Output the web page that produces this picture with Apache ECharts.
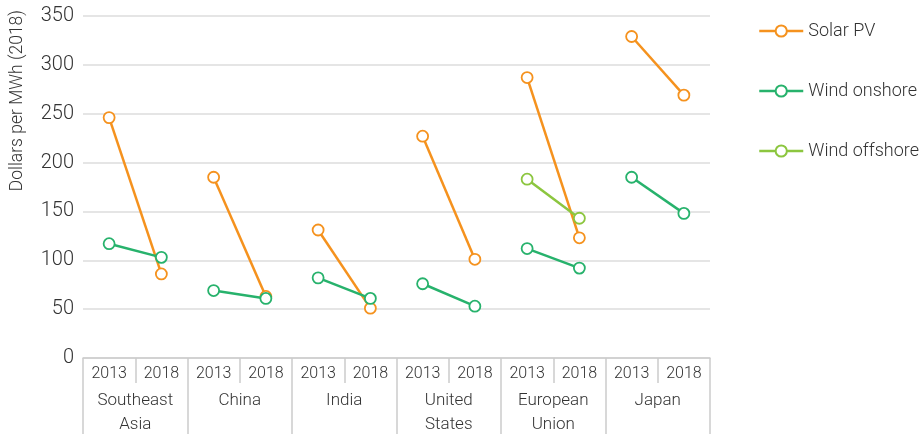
<!DOCTYPE html>
<html>
<head>
<meta charset="utf-8">
<script src="https://cdn.jsdelivr.net/npm/echarts@6/dist/echarts.min.js"></script>
<style>html,body{margin:0;padding:0;background:#fff;}#c{width:923px;height:434px;}</style>
</head>
<body>
<div id="c"></div>
<script>
const years = ['2013','2018','2013','2018','2013','2018','2013','2018','2013','2018','2013','2018'];
const regions = ['Southeast\nAsia','China','India','United\nStates','European\nUnion','Japan'];
const yTicks = [0, 50, 100, 150, 200, 250, 300, 350];
// [2013, 2018] per region
const solarPV = [[246, 86], [185, 63], [131, 51], [227, 101], [287, 123], [329, 269]];
const windOnshore = [[117, 103], [69, 61], [82, 61], [76, 53], [112, 92], [185, 148]];
const windOffshore = [null, null, null, null, [183, 143], null];

const colors = {'Solar PV':'#F5921E','Wind onshore':'#27B26C','Wind offshore':'#8CC63F'};
const font = 'Roboto, "Noto Sans", sans-serif';
const fw = 300;

function makeSeries(name, arr){
  const out = [];
  arr.forEach((pair, r) => {
    if (!pair) return;
    const d = new Array(years.length).fill(null);
    d[r*2] = pair[0]; d[r*2+1] = pair[1];
    out.push({
      name: name, type: 'line', xAxisIndex: 0, data: d,
      symbol: 'circle', symbolSize: 11, showSymbol: true,
      lineStyle: {width: 2.5, color: colors[name]},
      itemStyle: {color: '#fff', borderColor: colors[name], borderWidth: 1.8},
      emphasis: {disabled: true}, z: name === 'Solar PV' ? 2 : 3
    });
  });
  return out;
}
const series = [].concat(makeSeries('Solar PV', solarPV), makeSeries('Wind onshore', windOnshore), makeSeries('Wind offshore', windOffshore));

const legendItem = name => ({name: name,
  itemStyle: {color: '#fff', borderColor: colors[name], borderWidth: 2},
  lineStyle: {color: colors[name], width: 2.5}});

const chart = echarts.init(document.getElementById('c'));
chart.setOption({
  animation: false,
  textStyle: {fontFamily: font},
  grid: {left: 83, right: 213, top: 16, bottom: 76, outerBoundsMode: 'none', containLabel: false},
  legend: {
    orient: 'vertical', left: 758, top: 22, padding: 0, itemWidth: 44, itemHeight: 14, itemGap: 42, itemTextGap: 13,
    textStyle: {fontSize: 18, color: '#333', fontFamily: font, fontWeight: fw},
    data: ['Solar PV', 'Wind onshore', 'Wind offshore'].map(legendItem)
  },
  xAxis: [
    {type: 'category', data: years, position: 'bottom', boundaryGap: true,
     axisLine: {show: true, lineStyle: {color: '#ccc', width: 1.5}},
     axisTick: {show: true, interval: 0, length: 25, lineStyle: {color: '#ccc', width: 1.5}},
     axisLabel: {interval: 0, fontSize: 16, color: '#333', margin: 8, fontFamily: font, fontWeight: fw}},
    {type: 'category', data: regions, position: 'bottom', boundaryGap: true, gridIndex: 0,
     axisLine: {show: false},
     axisTick: {show: true, interval: 0, length: 76, lineStyle: {color: '#ccc', width: 1.5}},
     axisLabel: {interval: 0, fontSize: 17, color: '#333', margin: 31, lineHeight: 24, fontFamily: font, fontWeight: fw}}
  ],
  yAxis: {type: 'value', min: yTicks[0], max: yTicks[yTicks.length-1], interval: 50,
    axisLine: {show: false}, axisTick: {show: false},
    splitLine: {lineStyle: {color: '#ddd', width: 1.5}},
    axisLabel: {fontSize: 20, color: '#333', margin: 9, fontFamily: font, fontWeight: fw}},
  graphic: [{type: 'text', left: 9, top: 10, rotation: Math.PI/2,
    style: {text: 'Dollars per MWh (2018)', fontSize: 17.5, fill: '#333', fontFamily: font, fontWeight: fw}}],
  series: series
});
</script>
</body>
</html>
